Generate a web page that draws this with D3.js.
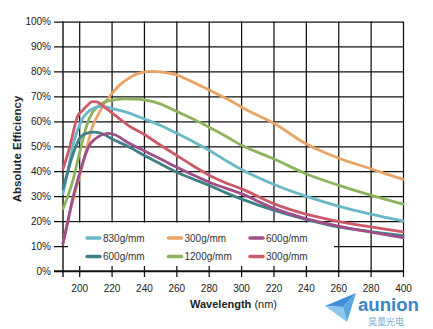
<!DOCTYPE html>
<html><head><meta charset="utf-8">
<script src="https://cdn.jsdelivr.net/npm/d3@7"></script>
<style>
html,body{margin:0;padding:0;background:#fff;}
svg{display:block;font-family:"Liberation Sans",Arial,sans-serif;}
</style></head>
<body><svg id="c" width="433" height="329"></svg>
<script>
// ---- data ----
const xTickValues = [200,220,240,260,280,300,320,340,360,380,400];
const xTickLabels = ["200","220","240","260","280","300","220","240","260","280","400"];
const yTickValues = [0,10,20,30,40,50,60,70,80,90,100];

const seriesNames = ["830g/mm","300g/mm","600g/mm","600g/mm","1200g/mm","300g/mm"];
const seriesColors = ["#6ab7c8","#e9a466","#9e4f8a","#3f8087","#8db35d","#cc5a6a"];

const wl830 = [190,193,196,199,202,205,210,214,220,230,240,250,260,270,280,290,300,320,340,360,380,400];
const ef830 = [31,40,50,56.5,61,63.5,65.5,66,65.2,63.5,61,58.4,55.3,52,48.5,44.5,40.8,34.8,30,26,22.8,20.1];

const wl300o = [190,193,196,200,204,208,212,216,220,225,230,235,240,245,250,260,270,280,293,305,320,340,360,380,400];
const ef300o = [11,20,28,37.5,47.5,57.5,63,67.5,71,74.5,77,78.8,79.7,80,79.8,78.6,75.8,72.6,68.4,64,59.3,51,45.3,41,36.7];

const wl600p = [190,193,196,200,203,206,210,214,218,222,230,240,250,260,270,280,290,300,320,340,360,380,400];
const ef600p = [11,20,29,38.5,45,50,53,54.6,55.2,54.6,51.5,48.2,45,41.7,38.6,35.7,33.3,31,25.2,21,18,15.6,13.4];

const wl600t = [190,193,195,198,201,205,209,213,216,220,230,240,250,260,270,280,290,300,320,340,360,380,400];
const ef600t = [33,40,44.5,50,53.8,55.3,55.7,55.3,54.5,53,50,46.4,43,39.7,37,34.4,31.5,28.9,24.4,20.7,17.7,15.8,14.2];

const wl1200 = [190,193,196,199,202,205,208,212,216,222,228,235,240,250,260,270,280,290,300,320,340,360,380,400];
const ef1200 = [25,30,36,44,52,59,63.3,66.3,67.8,68.6,69,68.9,68.6,67,64,61,57.7,54.2,50.5,45,39,34.4,30.4,26.8];

const wl300r = [190,193,195,197,199,202,205,208,211,215,220,225,230,240,250,260,270,280,290,300,320,340,360,380,400];
const ef300r = [41,47,52,57.5,62,64.3,66.3,67.9,67.8,66,63.5,61,58.5,54.8,50.5,46.4,42.3,38.5,35.5,33,27,22.8,19.9,17.7,15.7];

const seriesWl = [wl830, wl300o, wl600p, wl600t, wl1200, wl300r];
const seriesEf = [ef830, ef300o, ef600p, ef600t, ef1200, ef300r];
// draw order (back to front)
const drawOrder = [1,4,0,3,2,5];
// legend layout: [row, col] for each series
const legendRow = [0,0,0,1,1,1];
const legendCol = [0,1,2,0,1,2];

// ---- layout ----
const svg = d3.select("#c");
const L = 63, R = 403, T = 21.5, B = 271;
const x = d3.scaleLinear().domain([190,400]).range([L,R]);
const y = d3.scaleLinear().domain([0,100]).range([B,T]);
const ink = "#111";

svg.append("rect").attr("width",433).attr("height",329).attr("fill","#fff");

// horizontal grid + y labels
const gy = svg.append("g").attr("transform",`translate(${R},0)`)
  .call(d3.axisLeft(y).tickValues(yTickValues).tickSize(R-54).tickPadding(3)
    .tickFormat(d=>d+"%"));
gy.select(".domain").remove();
gy.selectAll("line").attr("stroke",ink).attr("stroke-width",1.25);
gy.selectAll("text").attr("font-size",10).attr("fill","#222")
  .attr("font-family","'Liberation Sans',Arial,sans-serif");

// vertical grid + x labels
const gx = svg.append("g").attr("transform",`translate(0,${T})`)
  .call(d3.axisBottom(x).tickValues(xTickValues).tickSize(277-T).tickPadding(7.5)
    .tickFormat((d,i)=>xTickLabels[i]));
gx.select(".domain").remove();
gx.selectAll("line").attr("stroke",ink).attr("stroke-width",1.25);
gx.selectAll("text").attr("font-size",10).attr("fill","#222")
  .attr("font-family","'Liberation Sans',Arial,sans-serif");

// left axis line
svg.append("line").attr("x1",L).attr("x2",L).attr("y1",T).attr("y2",277)
  .attr("stroke",ink).attr("stroke-width",1.4);
svg.append("line").attr("x1",54).attr("x2",R).attr("y1",B).attr("y2",B)
  .attr("stroke",ink).attr("stroke-width",1.4);

// legend background
svg.append("rect").attr("x",68).attr("y",222.6).attr("width",266).attr("height",43.4).attr("fill","#fff");

// curves
const line = d3.line().x(d=>x(d[0])).y(d=>y(d[1])).curve(d3.curveMonotoneX);
drawOrder.forEach(i=>{
  const pts = seriesWl[i].map((w,k)=>[w,seriesEf[i][k]]);
  svg.append("path").datum(pts).attr("d",line).attr("fill","none")
    .attr("stroke",seriesColors[i]).attr("stroke-width",2.8)
    .attr("stroke-linejoin","round").attr("stroke-linecap","round");
});

// legend
const colX = [87,168.5,250];
const rowY = [238,256.5];
seriesNames.forEach((n,i)=>{
  const gxp = colX[legendCol[i]], gyp = rowY[legendRow[i]];
  svg.append("line").attr("x1",gxp).attr("x2",gxp+13).attr("y1",gyp).attr("y2",gyp)
    .attr("stroke",seriesColors[i]).attr("stroke-width",3.5).attr("stroke-linecap","round");
  svg.append("text").attr("x",gxp+16).attr("y",gyp+3.6).attr("font-size",10)
    .attr("fill","#333").text(n);
});

// axis titles
const xt = svg.append("text").attr("x",190).attr("y",307.5).attr("font-size",11).attr("fill","#222");
xt.append("tspan").attr("font-weight","bold").text("Wavelength");
xt.append("tspan").text(" (nm)");

svg.append("text").attr("transform","translate(20.5,149) rotate(-90)")
  .attr("text-anchor","middle").attr("font-size",11.5).attr("font-weight","bold")
  .attr("fill","#222").text("Absolute Efficiency");

// watermark
const wm = svg.append("g");
wm.append("polygon").attr("points","325,306 356,293 343,307").attr("fill","#3d8fd6");
wm.append("polygon").attr("points","325,306 343,307 347,322").attr("fill","#8cc8ee");
wm.append("polygon").attr("points","343,307 356,293 347,322").attr("fill","#5aa8e2");
wm.append("text").attr("x",358).attr("y",311).attr("font-size",18).attr("font-weight","bold")
  .attr("fill","#3a86c8").attr("textLength",61).attr("lengthAdjust","spacingAndGlyphs").text("aunion");
wm.append("text").attr("x",368).attr("y",324.5).attr("font-size",9)
  .attr("font-family","'Noto Sans CJK SC',sans-serif").attr("fill","#7ab0d8").text("昊量光电");
</script></body></html>
